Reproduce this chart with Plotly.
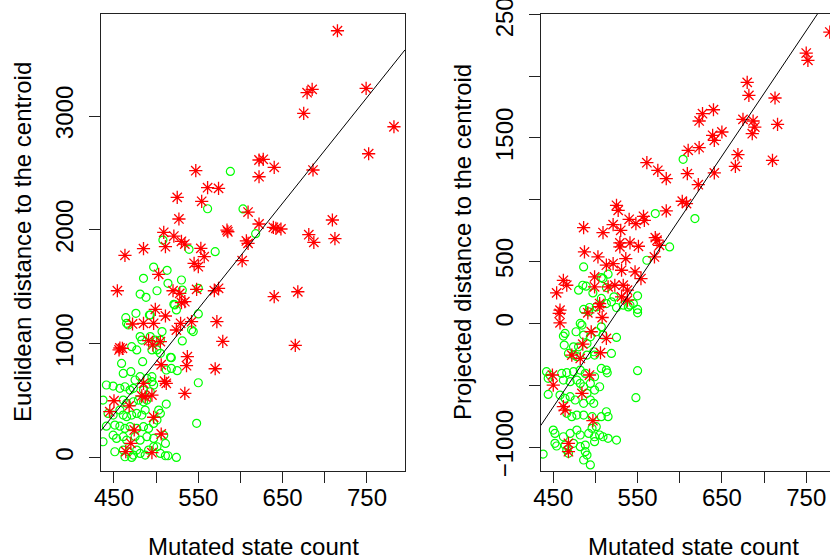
import plotly.graph_objects as go

# ---------------- data ----------------
# Left panel: Euclidean distance to the centroid
left_red_x = [715, 749, 679, 685, 675, 782, 752, 547, 686, 622, 627, 622, 640, 561, 574, 525, 554, 527, 609, 584,
              585, 622, 639, 642, 648, 709, 681, 687, 712, 607, 609, 602, 509, 521, 530, 534, 511, 485, 463, 553,
              557, 545, 550, 503, 640, 668, 665, 454, 520, 528, 534, 530, 548, 569, 574, 572, 579, 570, 537, 536,
              534, 542, 529, 524, 511, 499, 497, 485, 472, 457, 456, 460, 506, 510, 512, 495, 483, 487, 450, 445,
              468, 497, 474, 506, 470, 464, 495, 491, 496, 505, 485]
left_red_y = [3749, 3243, 3205, 3234, 3024, 2906, 2669, 2520, 2526, 2614, 2620, 2467, 2550, 2371, 2365, 2286, 2251, 2096, 2157, 1999,
              1984, 2052, 2023, 2014, 2008, 2087, 1958, 1891, 1923, 1903, 1882, 1730, 1979, 1946, 1900, 1876, 1853, 1835, 1777, 1838,
              1765, 1707, 1677, 1610, 1414, 1457, 987, 1466, 1466, 1443, 1370, 1361, 1478, 1466, 1487, 1194, 1022, 781, 887, 808,
              565, 1194, 1180, 1121, 1244, 1303, 1180, 1180, 1174, 963, 946, 960, 816, 671, 653, 550, 542, 535, 500, 404,
              454, 355, 243, 208, 126, 53, 44, 1028, 990, 1019, 653]

left_green_x = [588, 561, 603, 618, 508, 539, 570, 497, 513, 485, 530,
                481, 488, 501, 514, 531, 524, 521, 542, 531, 518, 550, 548, 464, 476, 492, 550,
                465, 467, 493, 522, 544, 550, 481, 483, 471, 477, 493, 499, 505, 507, 495, 501, 505, 459, 484, 517,
                512, 518, 525, 461, 470, 441, 449, 463, 457, 475, 481, 489, 495, 473, 469, 485, 493, 497, 495,
                437, 461, 465, 473, 479, 485, 489, 512, 503, 505, 443, 449, 457, 461, 465, 471, 477, 483, 487,
                501, 497, 441, 451, 457, 463, 469, 477, 485, 491, 437, 449, 453, 461, 465, 475, 481, 489, 497,
                509, 511, 501, 451, 461, 467, 477, 481, 491, 497, 505, 511, 514, 524, 463, 471, 473, 487]
left_green_y = [2514, 2186, 2184, 1967, 1911, 1830, 1809, 1674, 1645, 1575, 1560,
                1437, 1408, 1466, 1531, 1472, 1297, 1347, 1121, 1025, 878, 658, 302, 1229, 1268, 1253, 1487,
                1180, 1165, 1253, 1341, 1107, 1262, 1063, 1033, 975, 946, 1063, 1033, 1033, 1107, 946, 946, 916, 828, 843, 881,
                770, 784, 764, 740, 755, 638, 629, 623, 609, 682, 711, 696, 711, 609, 594, 594, 579, 638, 667,
                506, 506, 477, 491, 506, 491, 506, 471, 418, 389, 389, 374, 418, 374, 360, 374, 389, 374, 418,
                330, 301, 277, 286, 277, 257, 272, 257, 272, 257, 140, 198, 169, 184, 154, 184, 154, 184, 169,
                198, 125, 96, 52, 67, 52, 67, 37, 67, 96, 37, 17, 17, 2, 8, 2, 23, 23]

# Right panel: Projected distance to the centroid
right_red_x = [778, 750, 752, 680, 682, 713, 640, 627, 623, 675, 687, 689, 686, 716, 639, 641, 650, 623, 610, 669,
               666, 710, 561, 574, 584, 609, 641, 622, 603, 608, 525, 527, 584, 540, 548, 557, 558, 521, 530, 486,
               509, 529, 529, 541, 551, 571, 573, 576, 487, 503, 513, 521, 536, 531, 547, 570, 462, 499, 554, 466,
               454, 499, 515, 523, 533, 538, 505, 531, 538, 458, 457, 458, 505, 491, 508, 495, 513, 485, 506, 482,
               472, 493, 449, 450, 484, 462, 464, 497, 468, 468]
right_red_y = [2356, 2186, 2127, 1949, 1844, 1823, 1728, 1696, 1637, 1650, 1637, 1588, 1534, 1610, 1521, 1481, 1548, 1421, 1400, 1365,
               1270, 1319, 1300, 1238, 1171, 1211, 1217, 1122, 988, 969, 955, 915, 910, 842, 807, 866, 834, 799, 753, 775,
               735, 651, 619, 651, 624, 694, 673, 632, 578, 538, 471, 484, 524, 430, 417, 538, 349, 376, 363, 309,
               247, 296, 296, 309, 309, 269, 161, 215, 188, 107, 81, 5, 135, 86, 48, -67, -121, -167, -237, -283,
               -256, -417, -417, -498, -566, -673, -700, -786, -969, -1037]

right_green_x = [604, 571, 618, 588, 561, 486, 507, 515, 509, 485, 489, 480, 513, 497, 550, 545, 541, 507, 522, 519,
                 513, 486, 493, 501, 525, 550, 533, 539, 492, 550, 484, 482, 507, 477, 464, 462, 486, 494, 501, 509,
                 525, 463, 474, 480, 490, 468, 474, 478, 490, 499, 519, 498, 507, 513, 514, 442, 446, 444, 444, 460,
                 466, 474, 482, 488, 499, 505, 462, 470, 478, 482, 486, 494, 490, 499, 494, 498, 458, 464, 470, 476,
                 486, 466, 472, 478, 486, 496, 507, 513, 515, 501, 496, 450, 452, 462, 470, 478, 482, 492, 499, 505,
                 509, 515, 525, 452, 454, 464, 474, 482, 488, 499, 488, 490, 466, 468, 486, 494, 438, 550, 548]
right_green_y = [1327, 888, 848, 619, 511, 457, 371, 398, 363, 309, 301, 269, 290, 247, 223, 161, 148, 202, 215, 175,
                 161, 113, 129, 134, 129, 113, 148, 134, 94, 86, -13, 0, -27, -67, -81, -102, -94, -108, -67, -94,
                 -113, -175, -189, -189, -162, -242, -256, -269, -256, -256, -242, -229, -364, -377, -399, -390, -417, -444, -574, -404,
                 -398, -390, -377, -404, -431, -512, -458, -471, -458, -485, -512, -485, -565, -539, -619, -646, -579, -606, -592, -619,
                 -646, -727, -754, -741, -741, -754, -754, -714, -754, -835, -848, -862, -889, -916, -889, -862, -902, -889, -916, -902,
                 -916, -929, -943, -969, -991, -983, -969, -996, -983, -956, -1037, -1064, -1023, -1050, -1104, -1144, -1056, -382, -600]

# fitted lines (intercept, slope)
left_fit = (-3794, 9.276)
right_fit = (-5238, 10.14)

# axis settings
x_tickvals = [450, 500, 550, 600, 650, 700, 750, 800]
x_ticktext = ["450", "", "550", "", "650", "", "750", ""]
left_y_tickvals = [0, 1000, 2000, 3000]
left_y_ticktext = ["0", "1000", "2000", "3000"]
right_y_tickvals = [-1000, -500, 0, 500, 1000, 1500, 2000, 2500]
right_y_ticktext = ["\u22121000", "", "0", "500", "", "1500", "", "2500"]

left_xrange = [434.6, 795.1]
right_xrange = [435.1, 778.2]
left_yrange = [-117, 3896]
right_yrange = [-1193, 2502]

W, H = 830, 559
FONT = "Liberation Sans, Arial, Helvetica, sans-serif"
FS = 24
RED = "#FF0000"
GREEN = "#00FF00"

fig = go.Figure()


def add_panel(gx, gy, rx, ry, fit, xr, xa, ya):
    fig.add_trace(go.Scatter(x=gx, y=gy, mode="markers", xaxis=xa, yaxis=ya,
                             marker=dict(symbol="circle-open", size=8, color=GREEN,
                                         line=dict(color=GREEN, width=1.2)),
                             showlegend=False, hoverinfo="skip"))
    fig.add_trace(go.Scatter(x=rx, y=ry, mode="markers", xaxis=xa, yaxis=ya,
                             marker=dict(symbol="asterisk-open", size=11, color=RED,
                                         line=dict(color=RED, width=1.3)),
                             showlegend=False, hoverinfo="skip"))
    b0, b1 = fit
    lx = [xr[0], xr[1]]
    ly = [b0 + b1 * v for v in lx]
    fig.add_trace(go.Scatter(x=lx, y=ly, mode="lines", xaxis=xa, yaxis=ya,
                             line=dict(color="black", width=1),
                             showlegend=False, hoverinfo="skip"))


add_panel(left_green_x, left_green_y, left_red_x, left_red_y, left_fit, left_xrange, "x", "y")
add_panel(right_green_x, right_green_y, right_red_x, right_red_y, right_fit, right_xrange, "x2", "y2")

ydom = [(H - 471) / H, (H - 14) / H]

common_x = dict(showgrid=False, zeroline=False, showline=True, linecolor="#222222", linewidth=1,
                ticks="outside", ticklen=11, tickwidth=1, tickcolor="#222222", automargin=False,
                tickvals=x_tickvals, ticktext=x_ticktext, ticklabeloverflow="allow",
                tickfont=dict(family=FONT, size=FS, color="black"), ticklabelstandoff=-6)
common_y = dict(showgrid=False, zeroline=False, showline=True, linecolor="#222222", linewidth=1,
                ticks="outside", ticklen=11, tickwidth=1, tickcolor="#222222", tickangle=-90, automargin=False,
                ticklabeloverflow="allow",
                tickfont=dict(family=FONT, size=FS, color="black"), ticklabelstandoff=6)

fig.update_layout(
    width=W, height=H,
    margin=dict(l=0, r=0, t=0, b=0, autoexpand=False),
    paper_bgcolor="white", plot_bgcolor="white",
    font=dict(family=FONT, size=FS, color="black"),
    xaxis=dict(domain=[101 / W, 405 / W], range=left_xrange, mirror=True, anchor="y", **common_x),
    yaxis=dict(domain=ydom, range=left_yrange, mirror=True, anchor="x",
               tickvals=left_y_tickvals, ticktext=left_y_ticktext, **common_y),
    xaxis2=dict(domain=[540.7 / W, 1.0], range=right_xrange, mirror=True, anchor="y2", **common_x),
    yaxis2=dict(domain=ydom, range=right_yrange, mirror=False, anchor="x2",
                tickvals=right_y_tickvals, ticktext=right_y_ticktext, **common_y),
)

ann = dict(showarrow=False, xref="paper", yref="paper",
           font=dict(family=FONT, size=FS, color="black"))
fig.add_annotation(text="Mutated state count", x=253 / W, y=(H - 546) / H,
                   xanchor="center", yanchor="middle", **ann)
fig.add_annotation(text="Mutated state count", x=693 / W, y=(H - 546) / H,
                   xanchor="center", yanchor="middle", **ann)
fig.add_annotation(text="Euclidean distance to the centroid", x=22.5 / W, y=(H - 242.5) / H,
                   xanchor="center", yanchor="middle", textangle=-90, **ann)
fig.add_annotation(text="Projected distance to the centroid", x=462.5 / W, y=(H - 242.5) / H,
                   xanchor="center", yanchor="middle", textangle=-90, **ann)

fig.write_html("out.html", config={"displayModeBar": False, "staticPlot": True},
               post_script="document.body.style.margin='0';document.body.style.overflow='hidden';")
